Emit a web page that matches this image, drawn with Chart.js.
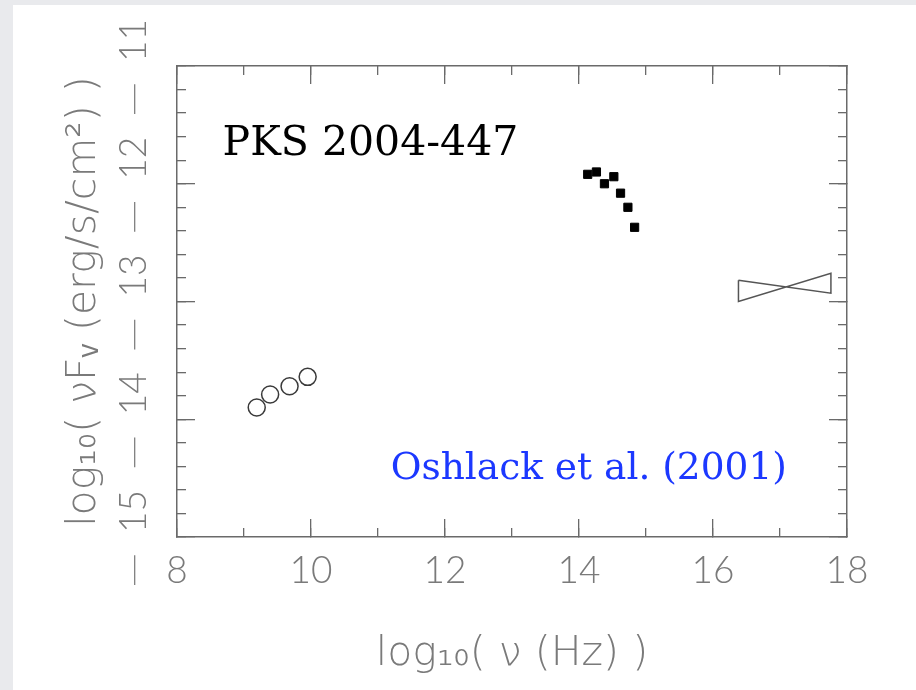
<!DOCTYPE html>
<html>
<head>
<meta charset="utf-8">
<script src="https://cdn.jsdelivr.net/npm/chart.js@4.4.1/dist/chart.umd.min.js"></script>
<style>
  html, body { margin: 0; padding: 0; width: 916px; height: 690px; overflow: hidden; background: #e9eaed; }
  #panel { position: absolute; left: 13px; top: 5px; right: 0; bottom: 0; background: #ffffff; }
  #wrap { position: absolute; left: 0; top: 0; width: 916px; height: 690px; }
</style>
</head>
<body>
<div id="panel"></div>
<div id="wrap"><canvas id="sed" width="916" height="690"></canvas></div>
<script>
// Spectral energy distribution: log10(nu / Hz) against log10(nu F_nu / erg s^-1 cm^-2)
const radioNu = [9.19, 9.39, 9.68, 9.95];
const radioFlux = [-13.90, -13.79, -13.72, -13.64];

const opticalNu = [14.13, 14.26, 14.38, 14.52, 14.62, 14.73, 14.83];
const opticalFlux = [-11.92, -11.90, -12.00, -11.94, -12.08, -12.20, -12.37];

// X-ray power-law range: band edges and the flux limits at each edge
const xrayNu = [16.38, 17.76];
const xrayLow = [-13.00, -12.93];
const xrayHigh = [-12.82, -12.76];

const xTicks = [8, 10, 12, 14, 16, 18];
const yTicks = [-15, -14, -13, -12, -11];

const sourceName = 'PKS 2004-447';
const reference = 'Oshlack et al. (2001)';

// where the two captions sit, in data units (left edge, baseline)
const captionAt = {
  source: { x: 8.68, y: -11.76 },
  reference: { x: 11.19, y: -14.51 }
};

const toPoints = (xs, ys) => xs.map((v, i) => ({ x: v, y: ys[i] }));

// bow-tie outline: two crossing limit lines closed by the band edges
const bowtie = [
  { x: xrayNu[0], y: xrayHigh[0] },
  { x: xrayNu[1], y: xrayLow[1] },
  { x: xrayNu[1], y: xrayHigh[1] },
  { x: xrayNu[0], y: xrayLow[0] },
  { x: xrayNu[0], y: xrayHigh[0] }
];

const axisGray = '#6a6a6a';
const labelGray = '#7a7a7a';
const tickFont = { family: 'Lato, "DejaVu Sans", sans-serif', weight: 300, size: 37 };
const titleFont = { family: '"DejaVu Sans", sans-serif', weight: 200, size: 41 };

function setTicks(values) {
  return (scale) => { scale.ticks = values.map(v => ({ value: v })); };
}

// helper for the tick-only frame axes (no labels, ticks pointing into the box)
function frameAxis(position, min, max, opts) {
  const horizontal = position === 'top' || position === 'bottom';
  return Object.assign({
    type: 'linear',
    position,
    min, max,
    weight: 0,
    afterFit: (s) => { if (horizontal) s.height = 0; else s.width = 0; },
    ticks: { display: false, maxTicksLimit: 100 },
    grid: { drawOnChartArea: false, drawTicks: true, tickLength: -9, color: axisGray, lineWidth: 1.3 },
    border: { display: false }
  }, opts);
}

const captions = {
  id: 'captions',
  afterDatasetsDraw(chart) {
    const { ctx, scales: { x, y } } = chart;
    ctx.save();
    ctx.textAlign = 'left';
    ctx.textBaseline = 'alphabetic';
    ctx.fillStyle = '#000000';
    ctx.font = '41px "DejaVu Serif", serif';
    ctx.fillText(sourceName, x.getPixelForValue(captionAt.source.x), y.getPixelForValue(captionAt.source.y));
    ctx.fillStyle = '#1c38ff';
    ctx.font = '37.5px "DejaVu Serif", serif';
    ctx.fillText(reference, x.getPixelForValue(captionAt.reference.x), y.getPixelForValue(captionAt.reference.y));
    ctx.restore();
  }
};

new Chart(document.getElementById('sed'), {
  type: 'scatter',
  data: {
    datasets: [
      {
        label: 'radio',
        data: toPoints(radioNu, radioFlux),
        pointStyle: 'circle',
        pointRadius: 8.5,
        borderWidth: 1.5,
        borderColor: '#3a3a3a',
        backgroundColor: 'rgba(0,0,0,0)'
      },
      {
        label: 'optical',
        data: toPoints(opticalNu, opticalFlux),
        pointStyle: 'rect',
        pointRadius: 5.8,
        borderWidth: 1,
        borderColor: '#000000',
        backgroundColor: '#000000'
      },
      {
        label: 'X-ray',
        data: bowtie,
        showLine: true,
        fill: false,
        tension: 0,
        pointRadius: 0,
        borderWidth: 1.5,
        borderColor: '#555555'
      }
    ]
  },
  options: {
    responsive: false,
    devicePixelRatio: 1,
    animation: false,
    layout: { padding: { left: 0, top: 66, right: 69, bottom: 0 } },
    plugins: { legend: { display: false }, tooltip: { enabled: false } },
    scales: {
      x: {
        type: 'linear',
        position: 'bottom',
        min: 8, max: 18,
        weight: 1,
        afterBuildTicks: setTicks(xTicks),
        afterFit: (s) => { s.height = 153; },
        grid: { drawOnChartArea: false, drawTicks: true, tickLength: -18, color: axisGray, lineWidth: 1.3 },
        border: { display: true, color: axisGray, width: 1.5 },
        ticks: { color: labelGray, font: tickFont, padding: 30, maxRotation: 0, autoSkip: false },
        title: {
          display: true,
          text: 'log₁₀( ν (Hz) )',
          color: labelGray,
          font: titleFont,
          padding: { top: 0, bottom: 11 }
        }
      },
      xMinor: frameAxis('bottom', 8, 18, { ticks: { display: false, stepSize: 1, maxTicksLimit: 100 } }),
      xTop: frameAxis('top', 8, 18, {
        afterBuildTicks: setTicks(xTicks),
        grid: { drawOnChartArea: false, drawTicks: true, tickLength: -18, color: axisGray, lineWidth: 1.3 },
        border: { display: true, color: axisGray, width: 1.5 }
      }),
      xTopMinor: frameAxis('top', 8, 18, { ticks: { display: false, stepSize: 1, maxTicksLimit: 100 } }),
      y: {
        type: 'linear',
        position: 'left',
        min: -15, max: -11,
        weight: 1,
        afterBuildTicks: setTicks(yTicks),
        afterFit: (s) => { s.width = 177; },
        grid: { drawOnChartArea: false, drawTicks: true, tickLength: -18, color: axisGray, lineWidth: 1.3 },
        border: { display: true, color: axisGray, width: 1.5 },
        ticks: {
          color: labelGray,
          font: tickFont,
          minRotation: 90,
          maxRotation: 90,
          crossAlign: 'center',
          padding: 14,
          autoSkip: false,
          callback: (v) => '\u2500\u2002\u2009' + Math.abs(v)
        },
        title: {
          display: true,
          text: 'log₁₀( νFᵥ (erg/s/cm²) )',
          color: labelGray,
          font: titleFont,
          padding: { top: 60, bottom: 0 }
        }
      },
      yMinor: frameAxis('left', -15, -11, { ticks: { display: false, stepSize: 0.2, maxTicksLimit: 100 } }),
      yRight: frameAxis('right', -15, -11, {
        afterBuildTicks: setTicks(yTicks),
        grid: { drawOnChartArea: false, drawTicks: true, tickLength: -18, color: axisGray, lineWidth: 1.3 },
        border: { display: true, color: axisGray, width: 1.5 }
      }),
      yRightMinor: frameAxis('right', -15, -11, { ticks: { display: false, stepSize: 0.2, maxTicksLimit: 100 } })
    }
  },
  plugins: [captions]
});
</script>
</body>
</html>
